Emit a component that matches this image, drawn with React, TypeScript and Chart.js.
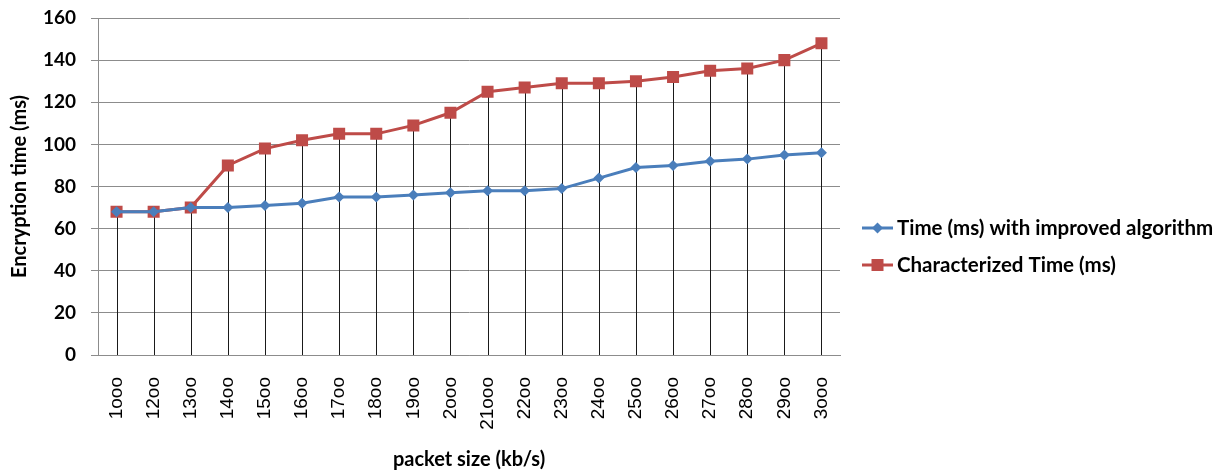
import React, { useEffect, useRef } from "react";
import { Chart, registerables } from "chart.js";

Chart.register(...registerables);

// Packet sizes as printed on the category axis
const categories = [
  "1ooo", "12oo", "13oo", "14oo", "15oo", "16oo", "17oo", "18oo", "19oo", "2ooo",
  "21ooo", "22oo", "23oo", "24oo", "25oo", "26oo", "27oo", "28oo", "29oo", "3ooo",
];

// Encryption times in ms
const improvedTimes = [68, 68, 70, 70, 71, 72, 75, 75, 76, 77, 78, 78, 79, 84, 89, 90, 92, 93, 95, 96];
const characterizedTimes = [68, 68, 70, 90, 98, 102, 105, 105, 109, 115, 125, 127, 129, 129, 130, 132, 135, 136, 140, 148];

const seriesLabels = ["Time (ms) with improved algorithm", "Characterized Time (ms)"];

const yMin = 0;
const yMax = 160;
const yStep = 20;

const BLUE = "#4A7EBB";
const RED = "#BE4B48";
const GRID = "#8C8C8C";
const FONT = "Lato, 'Liberation Sans', sans-serif";

// Vertical drop lines from the highest point of each category down to the axis
const dropLines = {
  id: "dropLines",
  beforeDatasetsDraw(chart: any) {
    const { ctx, scales } = chart;
    const x = scales.x;
    const y = scales.y;
    const count = chart.data.labels.length;
    ctx.save();
    ctx.strokeStyle = "#1a1a1a";
    ctx.lineWidth = 1;
    for (let i = 0; i < count; i++) {
      let top = -Infinity;
      chart.data.datasets.forEach((ds: any) => {
        const v = ds.data[i];
        if (typeof v === "number" && v > top) top = v;
      });
      const px = Math.round(x.getPixelForValue(i)) + 0.5;
      ctx.beginPath();
      ctx.moveTo(px, y.getPixelForValue(top));
      ctx.lineTo(px, y.bottom);
      ctx.stroke();
    }
    ctx.restore();
  },
};

// Legend drawn to the right of the plot, one row per dataset
const sideLegend = {
  id: "sideLegend",
  afterDraw(chart: any) {
    const { ctx, chartArea } = chart;
    const left = chartArea.right + 22;
    const rows = [228, 265];
    ctx.save();
    chart.data.datasets.forEach((ds: any, i: number) => {
      const cy = rows[i];
      ctx.strokeStyle = ds.borderColor;
      ctx.lineWidth = 3;
      ctx.beginPath();
      ctx.moveTo(left, cy);
      ctx.lineTo(left + 31, cy);
      ctx.stroke();
      ctx.fillStyle = ds.pointBackgroundColor;
      const mx = left + 15.5;
      ctx.beginPath();
      if (ds.pointStyle === "rect") {
        ctx.rect(mx - 6, cy - 6, 12, 12);
      } else {
        ctx.moveTo(mx - 5.5, cy);
        ctx.lineTo(mx, cy - 5.5);
        ctx.lineTo(mx + 5.5, cy);
        ctx.lineTo(mx, cy + 5.5);
        ctx.closePath();
      }
      ctx.fill();
      ctx.fillStyle = "#000";
      ctx.font = `bold 20.5px ${FONT}`;
      ctx.textBaseline = "middle";
      ctx.textAlign = "left";
      ctx.fillText(ds.label, left + 35, cy);
    });
    ctx.restore();
  },
};

export default function App() {
  const canvasRef = useRef<HTMLCanvasElement | null>(null);

  useEffect(() => {
    const canvas = canvasRef.current;
    if (!canvas) return;
    const chart = new Chart(canvas, {
      type: "line",
      data: {
        labels: categories,
        datasets: [
          {
            label: seriesLabels[0],
            data: improvedTimes,
            borderColor: BLUE,
            backgroundColor: BLUE,
            pointBackgroundColor: BLUE,
            pointBorderColor: BLUE,
            pointStyle: "rectRot",
            pointRadius: 5.5,
            pointBorderWidth: 0,
            borderWidth: 3,
            tension: 0,
          },
          {
            label: seriesLabels[1],
            data: characterizedTimes,
            borderColor: RED,
            backgroundColor: RED,
            pointBackgroundColor: RED,
            pointBorderColor: RED,
            pointStyle: "rect",
            pointRadius: 8.5,
            pointBorderWidth: 0,
            borderWidth: 3,
            tension: 0,
          },
        ],
      },
      options: {
        animation: false,
        responsive: false,
        maintainAspectRatio: false,
        layout: { padding: { left: 5, right: 385, top: 18, bottom: 0 } },
        plugins: {
          legend: { display: false },
          tooltip: { enabled: false },
        },
        scales: {
          x: {
            offset: true,
            grid: { display: false, drawTicks: false },
            border: { display: true, color: GRID, width: 1 },
            ticks: {
              color: "#000",
              font: { family: "'Liberation Sans', Arial, sans-serif", size: 19 },
              minRotation: 90,
              maxRotation: 90,
              autoSkip: false,
              padding: 22,
            },
            title: {
              display: true,
              text: "packet size (kb/s)",
              color: "#000",
              font: { family: FONT, size: 20, weight: "bold" },
              padding: { top: 0, bottom: 0 },
            },
            afterFit(scale: any) {
              scale.height = 117;
              scale.paddingTop = 0;
              scale.paddingBottom = 0;
            },
          },
          y: {
            min: yMin,
            max: yMax,
            grid: { color: GRID, lineWidth: 1, tickLength: 7, drawTicks: true },
            border: { display: true, color: GRID, width: 1 },
            ticks: {
              stepSize: yStep,
              color: "#000",
              font: { family: FONT, size: 19, weight: "bold" },
              padding: 15,
            },
            title: {
              display: true,
              text: "Encryption time (ms)",
              color: "#000",
              font: { family: FONT, size: 20, weight: "bold" },
              padding: { top: 3, bottom: 4 },
            },
            afterFit(scale: any) {
              scale.width = 93;
              scale.paddingTop = 0;
              scale.paddingBottom = 0;
            },
          },
        },
      },
      plugins: [dropLines, sideLegend],
    });
    return () => chart.destroy();
  }, []);

  return (
    <div style={{ position: "fixed", left: 0, top: 0, width: 1225, height: 472, background: "#fff" }}>
      <canvas ref={canvasRef} width={1225} height={472} style={{ display: "block" }} />
    </div>
  );
}
